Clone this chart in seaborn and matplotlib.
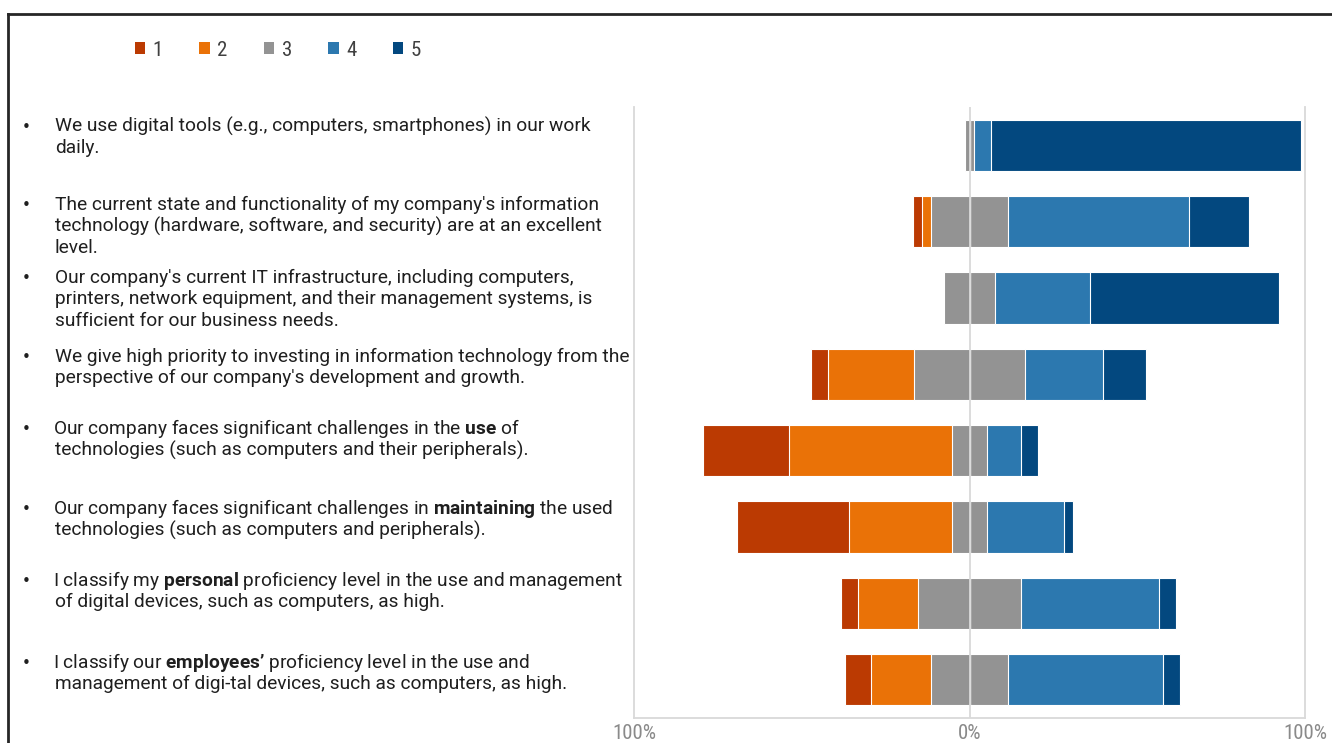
import matplotlib
matplotlib.use("Agg")
import matplotlib.pyplot as plt
from matplotlib.lines import Line2D
from matplotlib.patches import Patch
import pandas as pd
import seaborn as sns

# ---- data: share of answers (%) per Likert level, one entry per statement ----
statement_ids = ["S1", "S2", "S3", "S4", "S5", "S6", "S7", "S8"]
levels = ["1", "2", "3", "4", "5"]
pct_1 = [0.0, 2.6, 0.0, 5.1, 25.6, 33.3, 5.1, 7.7]
pct_2 = [0.0, 2.6, 0.0, 25.6, 48.7, 30.8, 17.9, 17.9]
pct_3 = [2.6, 23.1, 15.4, 33.3, 10.3, 10.3, 30.8, 23.1]
pct_4 = [5.1, 53.8, 28.2, 23.1, 10.3, 23.1, 41.0, 46.2]
pct_5 = [92.3, 17.9, 56.4, 12.8, 5.1, 2.6, 5.1, 5.1]

x_ticks = [-100, 0, 100]
x_tick_labels = ["100%", "0%", "100%"]

statement_lines = [
    ["We use digital tools (e.g., computers, smartphones) in our work",
     "daily."],
    ["The current state and functionality of my company's information",
     "technology (hardware, software, and security) are at an excellent",
     "level."],
    ["Our company's current IT infrastructure, including computers,",
     "printers, network equipment, and their management systems, is",
     "sufficient for our business needs."],
    ["We give high priority to investing in information technology from the",
     "perspective of our company's development and growth."],
    [r"Our company faces significant challenges in the $\mathbf{use}$ of",
     "technologies (such as computers and their peripherals)."],
    [r"Our company faces significant challenges in $\mathbf{maintaining}$ the used",
     "technologies (such as computers and peripherals)."],
    [r"I classify my $\mathbf{personal}$ proficiency level in the use and management",
     "of digital devices, such as computers, as high."],
    [r"I classify our $\mathbf{employees’}$ proficiency level in the use and",
     "management of digi-tal devices, such as computers, as high."],
]

palette = {"1": "#BB3A02", "2": "#EA7207", "3": "#939393",
           "4": "#2C78AF", "5": "#03487F"}

# ---- style ----
sns.set_theme(style="white")
plt.rcParams["font.family"] = ["Roboto", "DejaVu Sans"]
plt.rcParams["mathtext.fontset"] = "custom"
plt.rcParams["mathtext.rm"] = "Roboto"
plt.rcParams["mathtext.bf"] = "Roboto:bold"
plt.rcParams["mathtext.it"] = "Roboto:italic"
narrow = ["Liberation Sans Narrow", "Roboto Condensed", "Roboto"]

W, H = 1332, 743
fig = plt.figure(figsize=(W / 100, H / 100), dpi=100)
ax = fig.add_axes([634 / W, 1 - 718 / H, (1305 - 634) / W, (718 - 107) / H])

df = pd.DataFrame({"statement": statement_ids, "p1": pct_1, "p2": pct_2,
                   "p3": pct_3, "p4": pct_4, "p5": pct_5})
half = df["p3"] / 2

# diverging stack: cumulative extents drawn from the outside in, neutral split at 0
layers = [
    ("5", half + df["p4"] + df["p5"]),
    ("4", half + df["p4"]),
    ("3", half),
    ("1", -(half + df["p2"] + df["p1"])),
    ("2", -(half + df["p2"])),
    ("3", -half),
]
for lvl, ends in layers:
    sns.barplot(x=ends.values, y=df["statement"], orient="h", order=statement_ids,
                color=palette[lvl], saturation=1, width=0.67, errorbar=None,
                edgecolor="white", linewidth=0.8, ax=ax)

ax.set_xlim(-100, 100)
ax.set_ylim(7.5, -0.5)
ax.set_yticks([])
ax.set_xlabel("")
ax.set_ylabel("")
ax.axvline(0, color="#d9d9d9", lw=1.3, zorder=5)
ax.spines["top"].set_visible(False)
for side in ["left", "right", "bottom"]:
    ax.spines[side].set_color("#d9d9d9")
    ax.spines[side].set_linewidth(1.3)
ax.set_xticks(x_ticks)
ax.set_xticklabels(x_tick_labels, family=narrow, fontsize=15, color="#8a8a8a")
ax.tick_params(axis="x", length=0, pad=4)

# ---- statements with bullets ----
first_line_y = [126, 204, 277, 356, 428, 508, 580, 662]
line_step = 21.3
for y0, lines in zip(first_line_y, statement_lines):
    fig.text(26 / W, 1 - (y0 + 6) / H, "•", fontsize=11, family="DejaVu Sans",
             color="#1f1f1f", va="baseline", ha="center")
    for j, line in enumerate(lines):
        x0 = 53 if "$" in line else 55
        fig.text(x0 / W, 1 - (y0 + j * line_step + 6) / H, line, fontsize=13.8,
                 color="#1f1f1f", va="baseline", ha="left")

# ---- legend ----
handles = [Patch(facecolor=palette[l], edgecolor="none") for l in levels]
fig.legend(handles, levels, ncol=5, loc="center left",
           bbox_to_anchor=(135 / W, 1 - 50 / H), frameon=False,
           borderpad=0, borderaxespad=0, handlelength=0.5, handleheight=0.5,
           handletextpad=0.35, columnspacing=1.75,
           prop={"family": narrow, "size": 15}, labelcolor="#404040")

# ---- slide frame ----
fig.add_artist(Line2D([8 / W, 1], [1 - 14 / H, 1 - 14 / H], color="#262626",
                      lw=2, transform=fig.transFigure, solid_capstyle="projecting"))
fig.add_artist(Line2D([8 / W, 8 / W], [0, 1 - 14 / H], color="#262626",
                      lw=2, transform=fig.transFigure, solid_capstyle="projecting"))

fig.savefig("out.png", dpi=100, facecolor="white")
